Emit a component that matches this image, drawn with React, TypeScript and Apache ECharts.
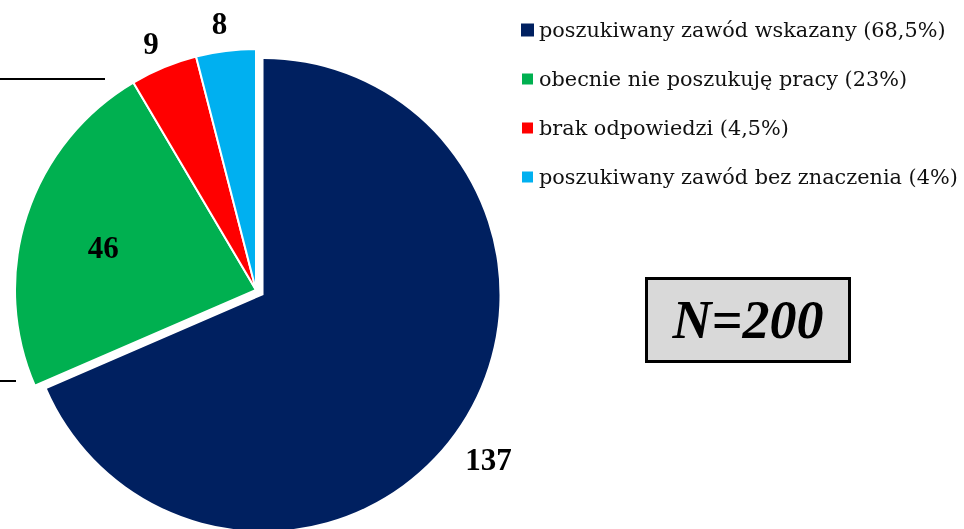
import React, { useEffect, useRef } from "react";
import * as echarts from "echarts";

const categories = [
  "poszukiwany zawód wskazany (68,5%)",
  "obecnie nie poszukuję pracy (23%)",
  "brak odpowiedzi (4,5%)",
  "poszukiwany zawód bez znaczenia (4%)",
];
const values = [137, 46, 9, 8];
const colors = ["#002060", "#00B050", "#FF0000", "#00B0F0"];
const sampleLabel = "N=200";

// per-slice label placement (line length, distance to label)
const labelLen = [64, -105, 26, 28];
const labelDist = [-49, 8, -5, -5];

export default function App() {
  const ref = useRef<HTMLDivElement>(null);
  useEffect(() => {
    if (!ref.current) return;
    const chart = echarts.init(ref.current, null, { renderer: "svg" });
    const serif = "Liberation Serif";
    const legendFont = "DejaVu Serif";
    const labelBase = {
      position: "outside",
      formatter: "{c}",
      fontFamily: serif,
      fontWeight: "bold",
      fontSize: 31,
      color: "#000",
    };
    const makeData = (visible: (i: number) => boolean) =>
      values.map((v, i) => {
        const on = visible(i);
        return {
          name: categories[i],
          value: v,
          selected: i === 0,
          itemStyle: on
            ? { color: colors[i] }
            : { color: "rgba(0,0,0,0)", borderWidth: 0 },
          label: on
            ? { show: true, distanceToLabelLine: labelDist[i] }
            : { show: false },
          labelLine: { show: false, length: labelLen[i], length2: 0 },
        };
      });
    chart.setOption({
      animation: false,
      legend: {
        orient: "vertical",
        left: 520,
        top: 18,
        padding: 0,
        itemWidth: 13,
        itemHeight: 13,
        itemGap: 25,
        icon: "rect",
        selectedMode: false,
        data: categories.map((c, i) => ({
          name: c,
          itemStyle: { color: colors[i] },
        })),
        textStyle: {
          fontFamily: legendFont,
          fontSize: 20.8,
          lineHeight: 24,
          color: "#111",
        },
      },
      series: [
        {
          type: "pie",
          name: "rest",
          center: [256, 290],
          radius: 241,
          startAngle: 90,
          clockwise: true,
          selectedMode: false,
          avoidLabelOverlap: false,
          emphasis: { disabled: true },
          itemStyle: { borderColor: "#fff", borderWidth: 2 },
          label: labelBase,
          labelLine: { show: false, length2: 0 },
          data: makeData((i) => i !== 0),
        },
        {
          type: "pie",
          name: "main",
          center: [256, 290],
          radius: 236,
          startAngle: 90,
          clockwise: true,
          selectedMode: "single",
          selectedOffset: 9,
          avoidLabelOverlap: false,
          emphasis: { disabled: true },
          itemStyle: { borderWidth: 0 },
          label: labelBase,
          labelLine: { show: false, length2: 0 },
          data: makeData((i) => i === 0),
        },
      ],
      graphic: [
        {
          type: "line",
          shape: { x1: 0, y1: 79, x2: 105, y2: 79 },
          style: { stroke: "#000", lineWidth: 2 },
        },
        {
          type: "line",
          shape: { x1: 0, y1: 381, x2: 16, y2: 381 },
          style: { stroke: "#000", lineWidth: 2 },
        },
        {
          type: "rect",
          shape: { x: 646.5, y: 278.5, width: 203, height: 83 },
          style: { fill: "#d9d9d9", stroke: "#000", lineWidth: 3 },
        },
        {
          type: "text",
          x: 748,
          y: 320,
          style: {
            text: sampleLabel,
            fontFamily: serif,
            fontWeight: "bold",
            fontStyle: "italic",
            fontSize: 54,
            fill: "#000",
            align: "center",
            verticalAlign: "middle",
          },
        },
      ],
    });
    return () => chart.dispose();
  }, []);
  return (
    <div
      ref={ref}
      style={{ position: "fixed", left: 0, top: 0, width: 964, height: 529 }}
    />
  );
}
